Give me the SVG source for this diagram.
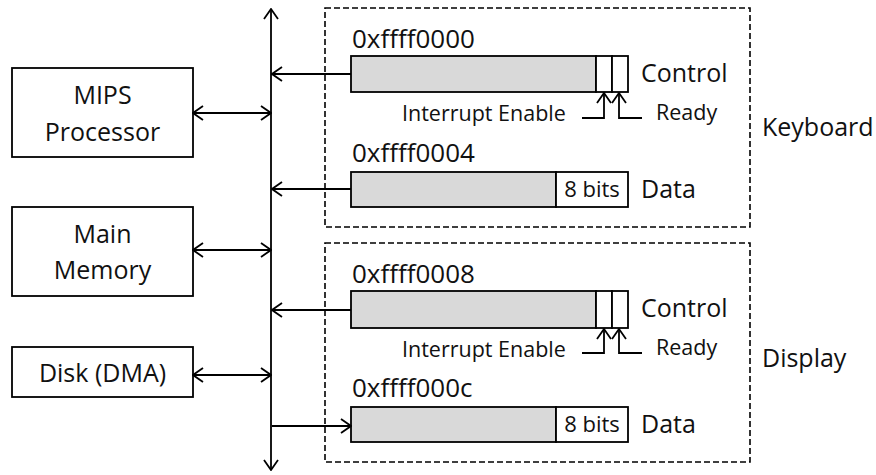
<svg xmlns="http://www.w3.org/2000/svg" width="876" height="475" viewBox="0 0 876 475">
<defs>
<marker id="ah" viewBox="0 0 12 16" markerWidth="12" markerHeight="16" refX="11" refY="8" orient="auto-start-reverse" markerUnits="userSpaceOnUse">
<path d="M1,1 L11,8 L1,15" fill="none" stroke="#000" stroke-width="1.8"/>
</marker>
</defs>
<style>
text{font-family:"Open Sans","Liberation Sans",sans-serif;fill:#111;}
.box{fill:#fff;stroke:#000;stroke-width:1.8;}
.dash{fill:none;stroke:#000;stroke-width:1.6;stroke-dasharray:6,3;}
.reg{fill:#d9d9d9;stroke:#000;stroke-width:1.8;}
.cell{fill:#fff;stroke:#000;stroke-width:1.8;}
.ln{fill:none;stroke:#000;stroke-width:1.8;}
.arr{fill:none;stroke:#000;stroke-width:1.8;marker-end:url(#ah);}
.arr2{fill:none;stroke:#000;stroke-width:1.8;marker-start:url(#ah);marker-end:url(#ah);}
.t25{font-size:25px;}
.t26{font-size:26px;}
.t21{font-size:21.5px;}
.t22{font-size:22px;}
.mid{text-anchor:middle;}
</style>

<g id="keyboard">
<rect class="dash" x="325" y="8" width="425" height="219"/>
<text class="t25" x="762" y="136">Keyboard</text>
</g>
<g id="display">
<rect class="dash" x="325" y="243" width="425" height="219"/>
<text class="t25" x="762" y="367">Display</text>
</g>

<g id="kbd-control">
<text class="t26" x="352" y="48">0xffff0000</text>
<rect class="reg" x="351" y="56" width="245" height="36"/>
<rect class="cell" x="596" y="56" width="16" height="36"/>
<rect class="cell" x="612" y="56" width="16" height="36"/>
<text class="t25" x="641" y="82">Control</text>
<text class="t21" x="402" y="121">Interrupt Enable</text>
<text class="t21" x="656" y="120">Ready</text>
</g>
<g id="kbd-data">
<text class="t26" x="352" y="162">0xffff0004</text>
<rect class="reg" x="351" y="172" width="205" height="35"/>
<rect class="cell" x="556" y="172" width="72" height="35"/>
<text class="t22 mid" x="592" y="197">8 bits</text>
<text class="t25" x="641" y="198">Data</text>
</g>

<g id="dsp-control">
<text class="t26" x="352" y="283">0xffff0008</text>
<rect class="reg" x="351" y="291" width="245" height="37"/>
<rect class="cell" x="596" y="291" width="16" height="37"/>
<rect class="cell" x="612" y="291" width="16" height="37"/>
<text class="t25" x="641" y="317">Control</text>
<text class="t21" x="402" y="357">Interrupt Enable</text>
<text class="t21" x="656" y="355">Ready</text>
</g>
<g id="dsp-data">
<text class="t26" x="352" y="397">0xffff000c</text>
<rect class="reg" x="351" y="407" width="205" height="35"/>
<rect class="cell" x="556" y="407" width="72" height="35"/>
<text class="t22 mid" x="592" y="432">8 bits</text>
<text class="t25" x="641" y="433">Data</text>
</g>

<g id="mips">
<rect class="box" x="12" y="68" width="181" height="89"/>
<text class="t25 mid" x="102.5" y="104">MIPS</text>
<text class="t25 mid" x="102.5" y="141">Processor</text>
</g>
<g id="memory">
<rect class="box" x="12" y="207" width="181" height="89"/>
<text class="t25 mid" x="102.5" y="243">Main</text>
<text class="t25 mid" x="102.5" y="279">Memory</text>
</g>
<g id="disk">
<rect class="box" x="12" y="347" width="181" height="50"/>
<text class="t25 mid" x="102.5" y="382">Disk (DMA)</text>
</g>

<g id="connectors">
<path class="arr2" d="M271,470 L271,9"/>
<path class="arr2" d="M193,113 L271,113"/>
<path class="arr2" d="M193,250 L271,250"/>
<path class="arr2" d="M193,375 L271,375"/>
<path class="arr" d="M351,74 L272,74"/>
<path class="arr" d="M351,189 L272,189"/>
<path class="arr" d="M351,310 L272,310"/>
<path class="arr" d="M272,426 L351,426"/>
<path class="arr" d="M582,118 L604,118 L604,93"/>
<path class="arr" d="M642,118 L619,118 L619,93"/>
<path class="arr" d="M582,353 L604,353 L604,329"/>
<path class="arr" d="M642,353 L619,353 L619,329"/>
</g>
</svg>
